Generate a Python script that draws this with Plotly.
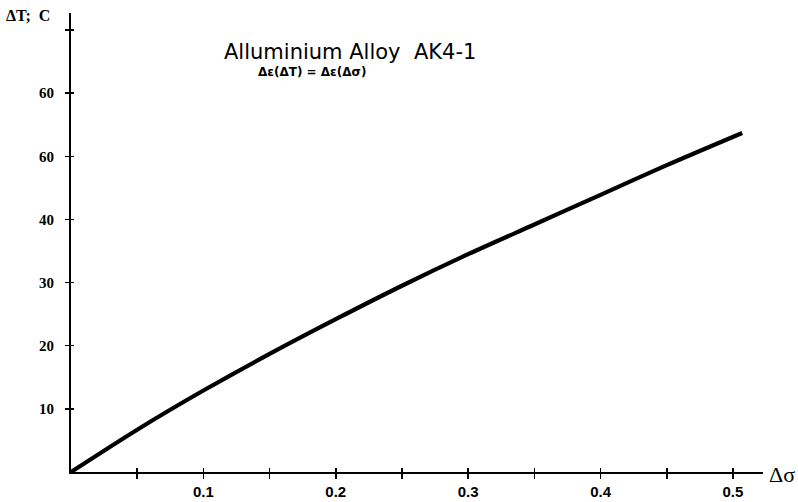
import plotly.graph_objects as go

# Data
delta_sigma = [0.0, 0.05, 0.1, 0.15, 0.2, 0.25, 0.3, 0.35, 0.4, 0.45, 0.507]
delta_T = [0.0, 6.7, 12.9, 18.7, 24.2, 29.5, 34.5, 39.2, 43.9, 48.6, 53.7]

x_tick_vals = [0.05, 0.1, 0.15, 0.2, 0.25, 0.3, 0.35, 0.4, 0.45, 0.5]
x_tick_text = ["", "0.1", "", "0.2", "", "0.3", "", "0.4", "", "0.5"]
y_tick_vals = [10, 20, 30, 40, 50, 60, 70]
y_tick_text = ["10", "20", "30", "40", "60", "60", ""]

title_text = "Alluminium Alloy  AK4-1"
subtitle_text = "Δε(ΔT) = Δε(Δσ)"
y_label = "ΔT;  C"
x_label = "Δσ"

X_RANGE = [0, 0.5227]
Y_RANGE = [0, 72.7]

# the photographed page is squeezed vertically by ~0.981, so lay out in a 512-tall figure
SY = 0.981
PW, PH = 798, 512
ML, MR = 71, 35
MT = round(13 / SY)
MB = PH - round(471 / SY)
plot_w = PW - ML - MR
plot_h = PH - MT - MB


def px_to_paper(px, py):
    return ((px - ML) / plot_w, 1 - (py / SY - MT) / plot_h)


fig = go.Figure()
fig.add_trace(go.Scatter(
    x=delta_sigma, y=delta_T, mode="lines",
    line=dict(color="black", width=4.2, shape="spline", smoothing=0.8),
    showlegend=False, hoverinfo="skip",
))
fig.add_trace(go.Scatter(x=[0], y=[0], xaxis="x2", yaxis="y2", mode="markers",
                         marker=dict(opacity=0), showlegend=False, hoverinfo="skip"))

axis_common = dict(showgrid=False, zeroline=False, showline=True, linecolor="black",
                   linewidth=2, tickcolor="black", tickwidth=1.5)

tx, ty = px_to_paper(350, 52)
sx, sy = px_to_paper(312, 72)
yx, yy = px_to_paper(28, 15)
xx, xy = px_to_paper(796, 473)

fig.update_layout(
    width=PW, height=PH,
    margin=dict(l=ML, r=MR, t=MT, b=MB),
    paper_bgcolor="white", plot_bgcolor="white",
    xaxis=dict(range=X_RANGE, tickmode="array", tickvals=x_tick_vals, ticktext=x_tick_text,
               ticks="outside", ticklen=5, ticklabelstandoff=0,
               tickfont=dict(family="Liberation Sans", size=15, color="black", weight="bold"),
               **axis_common),
    yaxis=dict(range=Y_RANGE, tickmode="array", tickvals=y_tick_vals, ticktext=y_tick_text,
               ticks="outside", ticklen=4, ticklabelstandoff=8,
               tickfont=dict(family="Liberation Serif", size=15, color="black", weight="bold"),
               **axis_common),
    xaxis2=dict(range=X_RANGE, overlaying="x", anchor="y2", tickmode="array",
                tickvals=x_tick_vals, ticks="inside", ticklen=4, showticklabels=False,
                showgrid=False, zeroline=False, showline=False, tickcolor="black", tickwidth=1.5),
    yaxis2=dict(range=Y_RANGE, overlaying="y", anchor="x2", tickmode="array",
                tickvals=y_tick_vals, ticks="inside", ticklen=3, showticklabels=False,
                showgrid=False, zeroline=False, showline=False, tickcolor="black", tickwidth=1.5),
    annotations=[
        dict(text=title_text, xref="paper", yref="paper", x=tx, y=ty,
             showarrow=False, xanchor="center", yanchor="middle",
             font=dict(family="DejaVu Sans", size=21, color="black")),
        dict(text=subtitle_text, xref="paper", yref="paper", x=sx, y=sy,
             showarrow=False, xanchor="center", yanchor="middle",
             font=dict(family="DejaVu Sans", size=12, color="black", weight="bold")),
        dict(text=y_label, xref="paper", yref="paper", x=yx, y=yy,
             showarrow=False, xanchor="center", yanchor="middle",
             font=dict(family="Liberation Serif", size=16, color="black", weight="bold")),
        dict(text=x_label, xref="paper", yref="paper", x=xx, y=xy,
             showarrow=False, xanchor="right", yanchor="middle", borderpad=0,
             font=dict(family="Liberation Serif", size=22, color="black")),
    ],
)

fig.write_html(
    "out.html",
    config={"displayModeBar": False, "staticPlot": True},
    post_script=(
        "document.body.style.margin='0';"
        "var g=document.getElementById('{plot_id}');"
        "g.style.position='fixed';g.style.left='0px';g.style.top='0px';"
    ),
)
